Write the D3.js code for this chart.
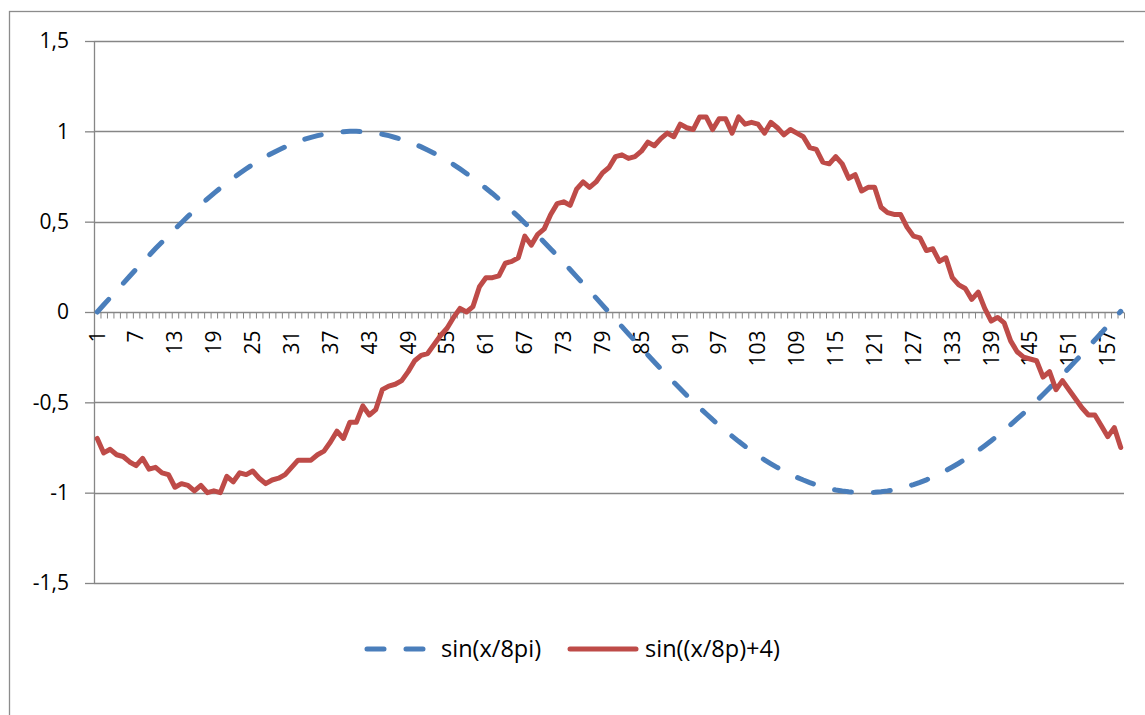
<!DOCTYPE html>
<html>
<head>
<meta charset="utf-8">
<script src="https://cdn.jsdelivr.net/npm/d3@7"></script>
<style>
  body {margin: 0; background: #fff;}
  svg text {font-family: 'Open Sans', sans-serif; fill: #000;}
</style>
</head>
<body>
<div id="graph"></div>
<script>
// categories 1..159, x labels every 6th
var categories = [
  1,2,3,4,5,6,7,8,9,10,11,12,13,14,15,16,17,18,19,20,
  21,22,23,24,25,26,27,28,29,30,31,32,33,34,35,36,37,38,39,40,
  41,42,43,44,45,46,47,48,49,50,51,52,53,54,55,56,57,58,59,60,
  61,62,63,64,65,66,67,68,69,70,71,72,73,74,75,76,77,78,79,80,
  81,82,83,84,85,86,87,88,89,90,91,92,93,94,95,96,97,98,99,100,
  101,102,103,104,105,106,107,108,109,110,111,112,113,114,115,116,117,118,119,120,
  121,122,123,124,125,126,127,128,129,130,131,132,133,134,135,136,137,138,139,140,
  141,142,143,144,145,146,147,148,149,150,151,152,153,154,155,156,157,158,159
]

var xLabels = [1,7,13,19,25,31,37,43,49,55,61,67,73,79,85,91,97,103,109,115,121,127,133,139,145,151,157]

var yTicks = [-1.5, -1, -0.5, 0, 0.5, 1, 1.5]
var yTickLabels = ['-1,5', '-1', '-0,5', '0', '0,5', '1', '1,5']

var seriesNames = ['sin(x/8pi)', 'sin((x/8p)+4)']

var sinValues = [
  0.000,0.040,0.079,0.119,0.158,0.198,0.237,0.275,0.313,0.351,0.387,0.424,0.460,0.494,0.529,0.562,0.594,0.626,0.657,0.686,
  0.714,0.742,0.768,0.793,0.817,0.839,0.860,0.879,0.897,0.914,0.930,0.944,0.956,0.967,0.976,0.984,0.990,0.995,0.998,1.000,
  1.000,0.998,0.995,0.990,0.984,0.976,0.966,0.956,0.943,0.929,0.914,0.897,0.879,0.859,0.838,0.816,0.792,0.767,0.741,0.714,
  0.685,0.656,0.625,0.593,0.561,0.528,0.493,0.458,0.423,0.386,0.349,0.312,0.274,0.235,0.196,0.157,0.117,0.078,0.038,-0.002,
  -0.041,-0.081,-0.121,-0.160,-0.199,-0.238,-0.277,-0.315,-0.352,-0.389,-0.425,-0.461,-0.496,-0.530,-0.563,-0.596,-0.627,-0.658,-0.687,-0.716,
  -0.743,-0.769,-0.794,-0.818,-0.840,-0.861,-0.880,-0.898,-0.915,-0.930,-0.944,-0.957,-0.968,-0.977,-0.985,-0.991,-0.995,-0.998,-1.000,-1.000,
  -0.998,-0.995,-0.990,-0.984,-0.976,-0.966,-0.955,-0.943,-0.929,-0.913,-0.896,-0.878,-0.858,-0.837,-0.815,-0.791,-0.766,-0.740,-0.713,-0.684,
  -0.654,-0.624,-0.592,-0.560,-0.526,-0.492,-0.457,-0.421,-0.385,-0.348,-0.310,-0.272,-0.234,-0.194,-0.155,-0.116,-0.076,-0.036,0.004
]

var noisyValues = [
  -0.70,-0.78,-0.76,-0.79,-0.80,-0.83,-0.85,-0.81,-0.87,-0.86,-0.89,-0.90,-0.97,-0.95,-0.96,-0.99,-0.96,-1.00,-0.99,-1.00,
  -0.91,-0.94,-0.89,-0.90,-0.88,-0.92,-0.95,-0.93,-0.92,-0.90,-0.86,-0.82,-0.82,-0.82,-0.79,-0.77,-0.72,-0.66,-0.70,-0.61,
  -0.61,-0.52,-0.57,-0.54,-0.43,-0.41,-0.40,-0.38,-0.33,-0.27,-0.24,-0.23,-0.18,-0.13,-0.09,-0.03,0.02,0.00,0.03,0.14,
  0.19,0.19,0.20,0.27,0.28,0.30,0.42,0.37,0.43,0.46,0.54,0.60,0.61,0.59,0.68,0.72,0.69,0.72,0.77,0.80,
  0.86,0.87,0.85,0.86,0.89,0.94,0.92,0.96,0.99,0.97,1.04,1.02,1.01,1.08,1.08,1.01,1.07,1.07,0.99,1.08,
  1.04,1.05,1.04,0.99,1.05,1.02,0.98,1.01,0.99,0.97,0.91,0.90,0.83,0.82,0.86,0.82,0.74,0.76,0.67,0.69,
  0.69,0.58,0.55,0.54,0.54,0.47,0.42,0.41,0.34,0.35,0.28,0.30,0.19,0.15,0.13,0.07,0.11,0.02,-0.05,-0.03,
  -0.06,-0.16,-0.22,-0.25,-0.26,-0.27,-0.36,-0.33,-0.43,-0.38,-0.43,-0.48,-0.53,-0.57,-0.57,-0.63,-0.69,-0.64,-0.75
]

var blue = '#4a7ebb', red = '#be4b48', gray = '#868686'

var svg = d3.select('#graph').append('svg')
  .attr('width', 1145).attr('height', 715)

svg.append('rect')
  .attr('x', 9.5).attr('y', 11.5)
  .attr('width', 1150).attr('height', 720)
  .attr('fill', 'none').attr('stroke', '#8c8c8c').attr('stroke-width', 1.3)

var plotL = 94, plotR = 1124, plotT = 41, plotB = 583

var x = d3.scaleBand().domain(categories).range([plotL, plotR])
var bw = x.bandwidth()
var px = d => x(d) + bw/2
var y = d3.scaleLinear().domain([-1.5, 1.5]).range([plotB, plotT])

// gridlines + y axis
var yAxis = d3.axisLeft(y)
  .tickValues(yTicks)
  .tickSize(9)
  .tickPadding(16)
  .tickFormat((d, i) => yTickLabels[i])

var yg = svg.append('g').attr('transform', `translate(${plotL},0)`).call(yAxis)
yg.select('.domain').remove()
yg.selectAll('.tick line').attr('stroke', gray).attr('stroke-width', 1.3)
yg.selectAll('.tick text').style('font-size', '21px').attr('fill', '#000')

svg.append('g').selectAll('line')
  .data(yTicks.filter(d => d != 0))
  .join('line')
  .attr('x1', plotL).attr('x2', plotR)
  .attr('y1', d => Math.round(y(d)) + 0.5).attr('y2', d => Math.round(y(d)) + 0.5)
  .attr('stroke', gray).attr('stroke-width', 1.3)

svg.append('line')
  .attr('x1', plotL + 0.5).attr('x2', plotL + 0.5)
  .attr('y1', plotT).attr('y2', plotB)
  .attr('stroke', gray).attr('stroke-width', 1.3)

// category axis sits on zero
var y0 = Math.round(y(0)) + 0.5
var tickScale = d3.scaleLinear().domain([0, categories.length]).range([plotL, plotR])
var xg = svg.append('g').attr('transform', `translate(0,${y0})`)
  .call(d3.axisBottom(tickScale).tickValues(d3.range(categories.length + 1)).tickSize(6).tickFormat(''))
xg.select('.domain').attr('stroke', gray).attr('stroke-width', 1.3).attr('d', `M${plotL},0H${plotR}`)
xg.selectAll('.tick line').attr('stroke', gray).attr('stroke-width', 1)

svg.append('g').selectAll('text')
  .data(xLabels)
  .join('text')
  .attr('transform', d => `translate(${px(d)},${y0 + 18}) rotate(-90)`)
  .attr('dy', '0.35em')
  .attr('text-anchor', 'end')
  .style('font-size', '21px')
  .text(d => d)

var line = d3.line()
  .x((d, i) => px(categories[i]))
  .y(d => y(d))

svg.append('path')
  .datum(sinValues)
  .attr('d', line)
  .attr('fill', 'none')
  .attr('stroke', blue).attr('stroke-width', 5)
  .attr('stroke-dasharray', '17,22')
  .attr('stroke-linecap', 'round')

svg.append('path')
  .datum(noisyValues)
  .attr('d', line)
  .attr('fill', 'none')
  .attr('stroke', red).attr('stroke-width', 5)
  .attr('stroke-linejoin', 'round')
  .attr('stroke-linecap', 'round')

// legend
var ly = 649
svg.append('line')
  .attr('x1', 367).attr('x2', 424).attr('y1', ly).attr('y2', ly)
  .attr('stroke', blue).attr('stroke-width', 5)
  .attr('stroke-dasharray', '17,22').attr('stroke-linecap', 'round')
svg.append('text').attr('x', 441).attr('y', ly).attr('dy', '0.35em')
  .style('font-size', '23.5px').text(seriesNames[0])

svg.append('line')
  .attr('x1', 570).attr('x2', 636).attr('y1', ly).attr('y2', ly)
  .attr('stroke', red).attr('stroke-width', 5).attr('stroke-linecap', 'round')
svg.append('text').attr('x', 645).attr('y', ly).attr('dy', '0.35em')
  .style('font-size', '23.5px').text(seriesNames[1])
</script>
</body>
</html>
